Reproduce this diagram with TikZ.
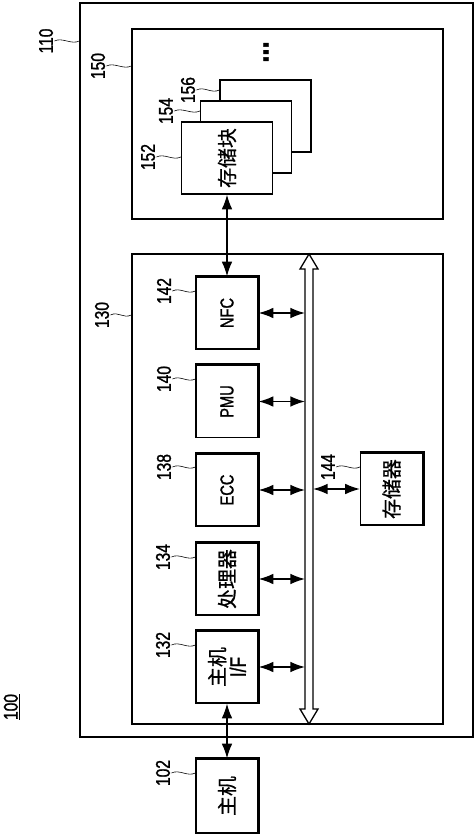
\documentclass[tikz,border=0pt]{standalone}
\usepackage{fontspec}
\setmainfont{Liberation Sans}[FakeStretch=0.78,FakeBold=1.2]
\newfontfamily\cjk{Noto Sans CJK SC}[FakeBold=0.8]
\usetikzlibrary{arrows.meta}
\newcommand{\zh}[1]{{\cjk\fontsize{17}{19}\selectfont #1}}

\tikzset{
  blk/.style={draw,line width=1.1pt,rotate=90,minimum width=21.6mm,minimum height=18.6mm,inner sep=0pt,align=center,fill=white,font=\fontsize{16}{18}\selectfont},
  frm/.style={draw,line width=1.2pt,inner sep=0pt},
  num/.style={rotate=90,inner sep=1pt,font=\fontsize{17}{19}\selectfont},
  tld/.style={line width=0.5pt},
  shd/.style={line width=2.4pt},
  con/.style={<->,line width=1.2pt},
}

\begin{document}
\begin{tikzpicture}[x=0.3mm,y=-0.3mm,>={Latex[length=4.4mm,width=3.2mm]}]
\useasboundingbox (0,0) rectangle (474,835);

% outer frames
\node[frm,minimum width=117.9mm,minimum height=220.2mm] (sys) at (276.5,370) {};
\node[frm,minimum width=93.3mm,minimum height=57mm] (mblk) at (287.5,124) {};
\node[frm,minimum width=93.3mm,minimum height=141mm] (ctrl) at (287.5,489) {};

% memory blocks
\node[blk,minimum height=27.3mm] (m156) at (265.5,116) {};
\node[blk,minimum height=27.3mm] (m154) at (246,137) {};
\node[blk,minimum height=27.3mm] (m152) at (227,158) {\zh{存储块}};
\node[rotate=90,inner sep=0pt,font=\bfseries\fontsize{28}{28}\selectfont] (dots) at (266,52) {...};

% bus
\draw[line width=1.1pt,fill=white] (309,254) -- (318,269) -- (313,269) -- (313,709) -- (318,709)
  -- (309,724) -- (300,709) -- (305,709) -- (305,269) -- (300,269) -- cycle;
\coordinate (busL) at (305,400);
\coordinate (busR) at (313,400);

% controller blocks
\node[blk] (nfc) at (227,313) {NFC};
\node[blk] (pmu) at (227,401.5) {PMU};
\node[blk] (ecc) at (227,490) {ECC};
\node[blk] (cpu) at (227,579) {\zh{处理器}};
\node[blk] (hif) at (227,667) {\zh{主机}\\[0pt]{\fontsize{19}{19}\selectfont I/F}};
\node[blk] (mem) at (391.5,489) {\zh{存储器}};
\node[blk,minimum width=22.2mm] (host) at (227,796) {\zh{主机}};

\foreach \n in {nfc,pmu,ecc,cpu,hif,mem,host}
  \draw[shd] (\n.north east) -- (\n.south east) -- (\n.south west);

% connectors
\draw[con] (m152.west) -- (nfc.east);
\foreach \n in {nfc,pmu,ecc,cpu,hif}
  \draw[con] (\n.south) -- (\n.south -| busL);
\draw[con] (busR |- mem.north) -- (mem.north);
\draw[con] (hif.west) -- (host.east);

% reference numerals
\node[num] (l110) at (46,41) {110};
\node[num] (l150) at (98,66) {150};
\node[num] (l156) at (188,90) {156};
\node[num] (l154) at (166,111) {154};
\node[num] (l152) at (148,157) {152};
\node[num] (l130) at (102,315) {130};
\node[num] (l142) at (164,291) {142};
\node[num] (l140) at (164,379) {140};
\node[num] (l138) at (164,467) {138};
\node[num] (l134) at (163,557) {134};
\node[num] (l132) at (163,645) {132};
\node[num] (l102) at (163,773) {102};
\node[num] (l144) at (328,467) {144};
\node[num] (l100) at (12,707) {\underline{100}};

\draw[tld] (l110.south) .. controls +(8,-4) and +(-8,4) .. (l110.south -| sys.west);
\draw[tld] (l150.south) .. controls +(8,-4) and +(-8,4) .. (l150.south -| mblk.west);
\draw[tld] (l156.south) .. controls +(8,-4) and +(-8,4) .. (l156.south -| m156.north);
\draw[tld] (l154.south) .. controls +(8,-4) and +(-8,4) .. (l154.south -| m154.north);
\draw[tld] (l152.south) .. controls +(8,-4) and +(-8,4) .. (l152.south -| m152.north);
\draw[tld] (l130.south) .. controls +(8,-4) and +(-8,4) .. (l130.south -| ctrl.west);
\draw[tld] (l142.south) .. controls +(8,-4) and +(-8,4) .. (l142.south -| nfc.north);
\draw[tld] (l140.south) .. controls +(8,-4) and +(-8,4) .. (l140.south -| pmu.north);
\draw[tld] (l138.south) .. controls +(8,-4) and +(-8,4) .. (l138.south -| ecc.north);
\draw[tld] (l134.south) .. controls +(8,-4) and +(-8,4) .. (l134.south -| cpu.north);
\draw[tld] (l132.south) .. controls +(8,-4) and +(-8,4) .. (l132.south -| hif.north);
\draw[tld] (l102.south) .. controls +(8,-4) and +(-8,4) .. (l102.south -| host.north);
\draw[tld] (l144.south) .. controls +(8,-4) and +(-8,4) .. (l144.south -| mem.north);
\end{tikzpicture}
\end{document}
